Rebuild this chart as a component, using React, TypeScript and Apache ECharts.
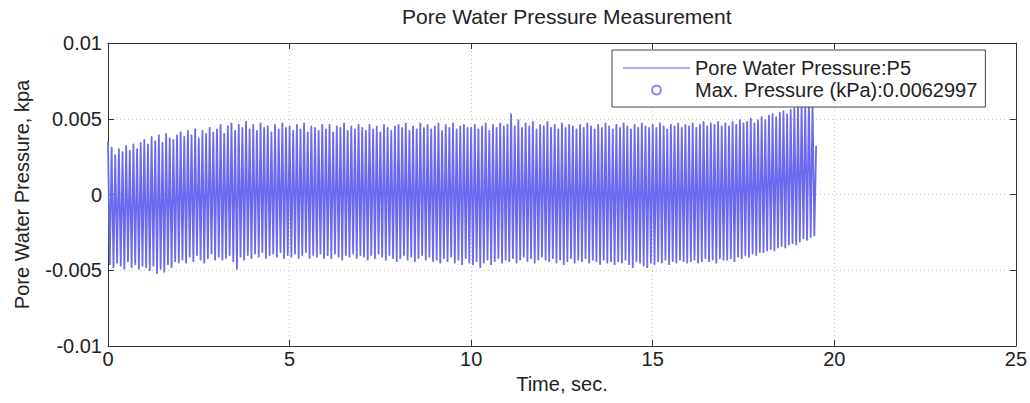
import React, { useEffect, useRef } from "react";
import * as echarts from "echarts";

// Sampling of the recorded signal (seconds)
const SAMPLE_START = 0;
const SAMPLE_STEP = 0.05;

// Pore water pressure P5 (kPa), one row per second of record
const pressureP5: number[] = [
  // 0 s
  0.0035, -0.0046, 0.0031, -0.0048, 0.0026, -0.0045, 0.0030, -0.0047, 0.0028, -0.0049,
  0.0032, -0.0044, 0.0029, -0.0048, 0.0033, -0.0046, 0.0030, -0.0049, 0.0034, -0.0047,
  // 1 s
  0.0036, -0.0048, 0.0033, -0.0050, 0.0038, -0.0047, 0.0035, -0.0052, 0.0039, -0.0049,
  0.0034, -0.0051, 0.0040, -0.0046, 0.0037, -0.0048, 0.0036, -0.0044, 0.0039, -0.0045,
  // 2 s
  0.0041, -0.0043, 0.0038, -0.0045, 0.0042, -0.0041, 0.0039, -0.0044, 0.0043, -0.0040,
  0.0037, -0.0043, 0.0042, -0.0045, 0.0040, -0.0042, 0.0044, -0.0039, 0.0041, -0.0043,
  // 3 s
  0.0043, -0.0041, 0.0046, -0.0043, 0.0040, -0.0042, 0.0045, -0.0040, 0.0047, -0.0044,
  0.0042, -0.0049, 0.0046, -0.0041, 0.0044, -0.0043, 0.0048, -0.0040, 0.0043, -0.0042,
  // 4 s
  0.0046, -0.0039, 0.0042, -0.0041, 0.0047, -0.0038, 0.0044, -0.0042, 0.0045, -0.0040,
  0.0041, -0.0039, 0.0046, -0.0041, 0.0043, -0.0038, 0.0047, -0.0042, 0.0044, -0.0040,
  // 5 s
  0.0045, -0.0041, 0.0042, -0.0039, 0.0046, -0.0042, 0.0043, -0.0040, 0.0047, -0.0038,
  0.0041, -0.0042, 0.0045, -0.0040, 0.0044, -0.0041, 0.0042, -0.0039, 0.0046, -0.0042,
  // 6 s
  0.0043, -0.0040, 0.0046, -0.0042, 0.0041, -0.0039, 0.0045, -0.0041, 0.0044, -0.0043,
  0.0047, -0.0040, 0.0042, -0.0041, 0.0045, -0.0039, 0.0043, -0.0042, 0.0046, -0.0040,
  // 7 s
  0.0044, -0.0041, 0.0042, -0.0043, 0.0046, -0.0040, 0.0043, -0.0042, 0.0045, -0.0039,
  0.0041, -0.0041, 0.0046, -0.0043, 0.0044, -0.0040, 0.0042, -0.0042, 0.0045, -0.0044,
  // 8 s
  0.0046, -0.0042, 0.0044, -0.0040, 0.0047, -0.0043, 0.0042, -0.0041, 0.0045, -0.0044,
  0.0043, -0.0042, 0.0047, -0.0040, 0.0044, -0.0043, 0.0046, -0.0041, 0.0043, -0.0044,
  // 9 s
  0.0045, -0.0043, 0.0047, -0.0045, 0.0042, -0.0042, 0.0046, -0.0044, 0.0044, -0.0041,
  0.0047, -0.0045, 0.0043, -0.0043, 0.0045, -0.0046, 0.0046, -0.0042, 0.0044, -0.0045,
  // 10 s
  0.0044, -0.0046, 0.0046, -0.0044, 0.0043, -0.0048, 0.0045, -0.0045, 0.0047, -0.0043,
  0.0042, -0.0046, 0.0046, -0.0044, 0.0044, -0.0042, 0.0047, -0.0045, 0.0045, -0.0043,
  // 11 s
  0.0046, -0.0044, 0.0053, -0.0042, 0.0045, -0.0045, 0.0049, -0.0043, 0.0044, -0.0041,
  0.0047, -0.0044, 0.0045, -0.0042, 0.0048, -0.0045, 0.0043, -0.0043, 0.0046, -0.0041,
  // 12 s
  0.0045, -0.0043, 0.0048, -0.0044, 0.0044, -0.0042, 0.0046, -0.0045, 0.0043, -0.0043,
  0.0047, -0.0046, 0.0044, -0.0044, 0.0046, -0.0042, 0.0045, -0.0045, 0.0043, -0.0043,
  // 13 s
  0.0046, -0.0044, 0.0044, -0.0042, 0.0047, -0.0045, 0.0045, -0.0043, 0.0043, -0.0044,
  0.0046, -0.0046, 0.0044, -0.0043, 0.0047, -0.0045, 0.0045, -0.0044, 0.0043, -0.0046,
  // 14 s
  0.0046, -0.0044, 0.0044, -0.0045, 0.0047, -0.0043, 0.0045, -0.0046, 0.0043, -0.0048,
  0.0046, -0.0044, 0.0044, -0.0045, 0.0047, -0.0047, 0.0045, -0.0048, 0.0044, -0.0045,
  // 15 s
  0.0046, -0.0046, 0.0044, -0.0044, 0.0047, -0.0045, 0.0045, -0.0043, 0.0043, -0.0046,
  0.0046, -0.0044, 0.0045, -0.0045, 0.0047, -0.0043, 0.0044, -0.0044, 0.0046, -0.0045,
  // 16 s
  0.0045, -0.0044, 0.0047, -0.0043, 0.0044, -0.0045, 0.0046, -0.0044, 0.0048, -0.0042,
  0.0045, -0.0044, 0.0047, -0.0043, 0.0046, -0.0045, 0.0048, -0.0042, 0.0045, -0.0043,
  // 17 s
  0.0047, -0.0043, 0.0045, -0.0042, 0.0048, -0.0044, 0.0046, -0.0041, 0.0049, -0.0042,
  0.0047, -0.0040, 0.0048, -0.0041, 0.0050, -0.0039, 0.0047, -0.0040, 0.0049, -0.0038,
  // 18 s
  0.0051, -0.0038, 0.0049, -0.0037, 0.0052, -0.0036, 0.0053, -0.0037, 0.0051, -0.0035,
  0.0054, -0.0034, 0.0055, -0.0035, 0.0053, -0.0033, 0.0056, -0.0032, 0.0057, -0.0033,
  // 19 s
  0.0058, -0.0031, 0.0060, -0.0029, 0.0059, -0.0030, 0.0062997, -0.0028, 0.0061, -0.0027,
  0.0032,
];

const SERIES_NAME = "Pore Water Pressure:P5";
const MAX_LABEL = "Max. Pressure (kPa):0.0062997";
const maxPressure = 0.0062997;
const maxPressureTime = 19.3;

const TITLE = "Pore Water Pressure Measurement";
const X_NAME = "Time, sec.";
const Y_NAME = "Pore Water Pressure, kpa";

const xTicks = { min: 0, max: 25, interval: 5 };
const yTicks = { min: -0.01, max: 0.01, interval: 0.005 };

const FONT = "'Liberation Sans', Arial, Helvetica, sans-serif";

export default function App() {
  const ref = useRef<HTMLDivElement>(null);

  useEffect(() => {
    document.body.style.margin = "0";
    if (!ref.current) return;
    const chart = echarts.init(ref.current, undefined, { renderer: "svg" });

    const lineData = pressureP5.map((v, i) => [
      +(SAMPLE_START + i * SAMPLE_STEP).toFixed(4),
      v,
    ]);

    const axisColor = "#333";
    const textColor = "#222";

    const gridLine = {
      show: true,
      lineStyle: { color: "#c8c8c8", type: [1, 3] as any, width: 1 },
    };

    chart.setOption({
      animation: false,
      backgroundColor: "#ffffff",
      textStyle: { fontFamily: FONT },
      title: {
        text: TITLE,
        left: 402,
        top: 6,
        padding: 0,
        textStyle: {
          fontFamily: FONT,
          fontSize: 21,
          fontWeight: "normal",
          color: textColor,
        },
      },
      grid: {
        left: 108,
        right: 14,
        top: 43,
        bottom: 57,
        containLabel: false,
      },
      legend: {
        orient: "vertical",
        left: 612,
        top: 50,
        padding: [8, 8, 7, 11],
        itemWidth: 67,
        itemHeight: 9,
        itemGap: 2,
        backgroundColor: "#ffffff",
        borderColor: "#444",
        borderWidth: 1,
        borderRadius: 0,
        textStyle: { fontFamily: FONT, fontSize: 20, color: textColor },
        data: [
          {
            name: SERIES_NAME,
            icon: "path://M0,0 L100,0 L100,1.4 L0,1.4 Z",
            itemStyle: { color: "#5a5af0" },
          },
          { name: MAX_LABEL, icon: "emptyCircle" },
        ],
      },
      xAxis: [
        {
          type: "value",
          ...xTicks,
          position: "bottom",
          name: X_NAME,
          nameLocation: "middle",
          nameGap: 26,
          nameTextStyle: { fontFamily: FONT, fontSize: 20, color: textColor },
          axisLine: { show: true, onZero: false, lineStyle: { color: axisColor, width: 1 } },
          axisTick: { show: true, inside: true, length: 6, lineStyle: { color: axisColor } },
          axisLabel: { fontFamily: FONT, fontSize: 20, color: textColor, margin: 3 },
          splitLine: gridLine,
        },
        {
          type: "value",
          ...xTicks,
          position: "top",
          axisLine: { show: true, onZero: false, lineStyle: { color: axisColor, width: 1 } },
          axisTick: { show: true, inside: true, length: 6, lineStyle: { color: axisColor } },
          axisLabel: { show: false },
          splitLine: { show: false },
        },
      ],
      yAxis: [
        {
          type: "value",
          ...yTicks,
          position: "left",
          name: Y_NAME,
          nameLocation: "middle",
          nameGap: 76,
          nameRotate: 90,
          nameTextStyle: { fontFamily: FONT, fontSize: 20, color: textColor },
          axisLine: { show: true, onZero: false, lineStyle: { color: axisColor, width: 1 } },
          axisTick: { show: true, inside: true, length: 6, lineStyle: { color: axisColor } },
          axisLabel: { fontFamily: FONT, fontSize: 20, color: textColor, margin: 6 },
          splitLine: gridLine,
        },
        {
          type: "value",
          ...yTicks,
          position: "right",
          axisLine: { show: true, onZero: false, lineStyle: { color: axisColor, width: 1 } },
          axisTick: { show: true, inside: true, length: 6, lineStyle: { color: axisColor } },
          axisLabel: { show: false },
          splitLine: { show: false },
        },
      ],
      series: [
        {
          name: SERIES_NAME,
          type: "line",
          xAxisIndex: 0,
          yAxisIndex: 0,
          data: lineData,
          showSymbol: false,
          symbol: "none",
          lineStyle: { color: "#6a6aee", width: 1.8, join: "round" },
          itemStyle: { color: "#6a6aee" },
          z: 2,
        },
        {
          name: MAX_LABEL,
          type: "scatter",
          xAxisIndex: 0,
          yAxisIndex: 0,
          data: [[maxPressureTime, maxPressure]],
          symbol: "emptyCircle",
          symbolSize: 9,
          itemStyle: { color: "#6a6af2", borderColor: "#6a6af2", borderWidth: 1 },
          z: 1,
        },
      ],
    });

    return () => chart.dispose();
  }, []);

  return (
    <div
      ref={ref}
      style={{ position: "fixed", left: 0, top: 0, width: 1030, height: 403 }}
    />
  );
}
